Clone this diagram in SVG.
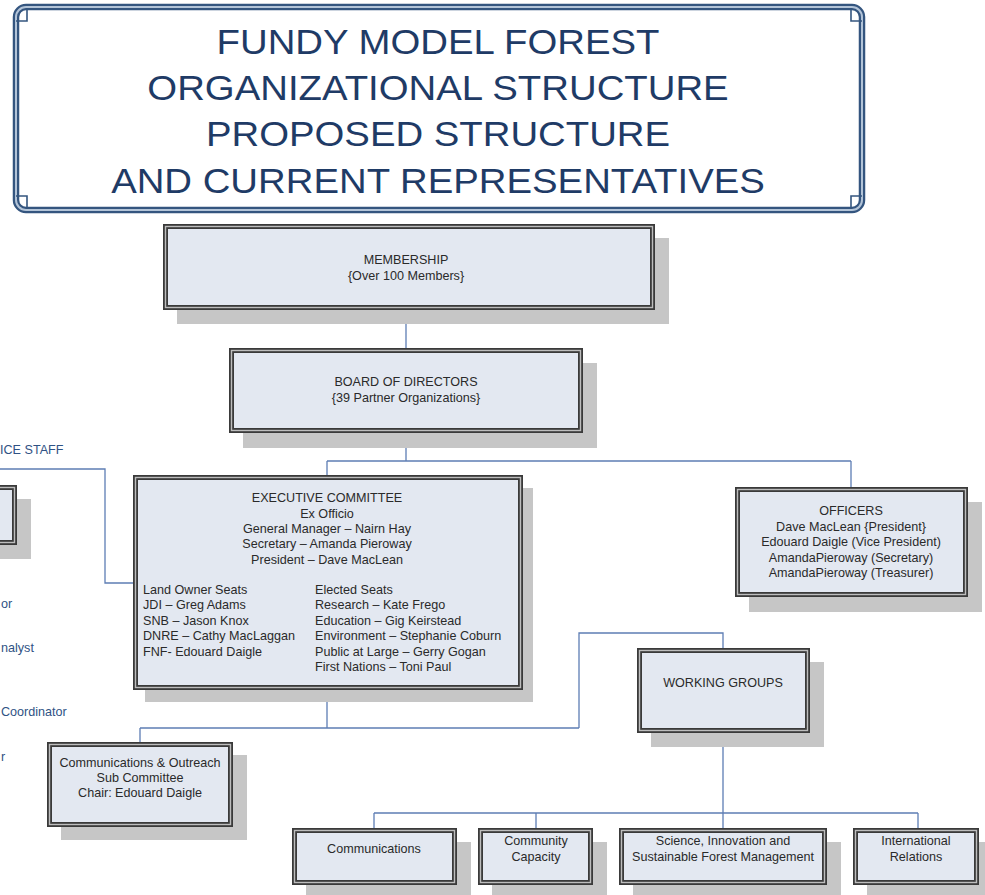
<svg xmlns="http://www.w3.org/2000/svg" width="985" height="895" viewBox="0 0 985 895">
  <style>
    .shadow { fill: #c6c6c6; }
    .box { fill: #e3e8f1; stroke: #3a3a3a; stroke-width: 5; }
    .mid { fill: none; stroke: #bdbdbd; stroke-width: 1.4; }
    .t { font-family: "Liberation Sans", Arial, sans-serif; font-size: 12.6px; fill: #2a2a2a; }
    .c { text-anchor: middle; }
    .side { font-family: "Liberation Sans", Arial, sans-serif; font-size: 12.6px; fill: #2f5284; }
    .link { fill: none; stroke: #5d7db4; stroke-width: 1.3; }
    .title { font-family: "Liberation Sans", Arial, sans-serif; font-size: 36px; fill: #1f3b66; text-anchor: middle; }
    .frame { fill: none; stroke: #34557f; stroke-width: 6.5; }
    .frame-in { fill: none; stroke: #b3c4d8; stroke-width: 2; }
    .notch { fill: none; stroke: #34557f; stroke-width: 1.6; }
  </style>

  <rect x="0" y="0" width="985" height="895" fill="#ffffff"/>

  <!-- title frame -->
  <g id="title">
    <rect class="frame" x="16" y="7" width="846" height="203" rx="10"/>
    <rect class="frame-in" x="16" y="7" width="846" height="203" rx="10"/>
    <path class="notch" d="M27,8 V21 H16 M851,8 V21 H862 M27,209 V196 H16 M851,209 V196 H862"/>
    <g transform="translate(438,0) scale(1.065,1)">
      <text class="title" x="0" y="54">FUNDY MODEL FOREST</text>
      <text class="title" x="0" y="100">ORGANIZATIONAL STRUCTURE</text>
      <text class="title" x="0" y="146.5">PROPOSED STRUCTURE</text>
      <text class="title" x="0" y="193">AND CURRENT REPRESENTATIVES</text>
    </g>
  </g>

  <!-- connectors -->
  <g id="connectors">
    <path class="link" d="M406,310 V348"/>
    <path class="link" d="M406,433 V461 M327,461 H851 M327,461 V475 M851,461 V487"/>
    <path class="link" d="M327,690 V728 M140,728 H579 M140,728 V742 M579,728 V633 H723 V648"/>
    <path class="link" d="M723,733 V813 M374,813 H918 M374,813 V828 M536,813 V828 M723,813 V828 M918,813 V828"/>
    <path class="link" d="M0,469 H105 V583 H133"/>
  </g>

  <!-- office staff column, running off the left edge -->
  <g id="office-staff">
    <text class="side" x="0" y="454">ICE STAFF</text>
    <rect class="shadow" x="-86" y="499" width="117" height="60"/>
    <rect class="box" x="-97.5" y="487.5" width="112" height="55"/>
    <rect class="mid" x="-97.5" y="487.5" width="112" height="55"/>
    <text class="side" x="1" y="608">or</text>
    <text class="side" x="1" y="652">nalyst</text>
    <text class="side" x="1" y="716">Coordinator</text>
    <text class="side" x="1" y="761">r</text>
  </g>

  <g id="membership">
    <rect class="shadow" x="177" y="238" width="492" height="86"/>
    <rect class="box" x="165.5" y="226.5" width="487" height="81"/>
    <rect class="mid" x="165.5" y="226.5" width="487" height="81"/>
    <text class="t c" x="406" y="264">MEMBERSHIP</text>
    <text class="t c" x="406" y="279.5">{Over 100 Members}</text>
  </g>

  <g id="board">
    <rect class="shadow" x="243" y="363" width="354" height="85"/>
    <rect class="box" x="231.5" y="350.5" width="349" height="80"/>
    <rect class="mid" x="231.5" y="350.5" width="349" height="80"/>
    <text class="t c" x="406" y="386">BOARD OF DIRECTORS</text>
    <text class="t c" x="406" y="402">{39 Partner Organizations}</text>
  </g>

  <g id="executive-committee">
    <rect class="shadow" x="145" y="488" width="388" height="214"/>
    <rect class="box" x="135.5" y="477.5" width="385" height="210"/>
    <rect class="mid" x="135.5" y="477.5" width="385" height="210"/>
    <text class="t c" x="327" y="501.5">EXECUTIVE COMMITTEE</text>
    <text class="t c" x="327" y="517.5">Ex Officio</text>
    <text class="t c" x="327" y="532.5">General Manager – Nairn Hay</text>
    <text class="t c" x="327" y="547.5">Secretary – Amanda Pieroway</text>
    <text class="t c" x="327" y="563.5">President – Dave MacLean</text>
    <text class="t" x="143" y="593.5">Land Owner Seats</text>
    <text class="t" x="143" y="609">JDI – Greg Adams</text>
    <text class="t" x="143" y="624.5">SNB – Jason Knox</text>
    <text class="t" x="143" y="640">DNRE – Cathy MacLaggan</text>
    <text class="t" x="143" y="655.5">FNF- Edouard Daigle</text>
    <text class="t" x="315" y="593.5">Elected Seats</text>
    <text class="t" x="315" y="609">Research – Kate Frego</text>
    <text class="t" x="315" y="624.5">Education – Gig Keirstead</text>
    <text class="t" x="315" y="640">Environment – Stephanie Coburn</text>
    <text class="t" x="315" y="655.5">Public at Large – Gerry Gogan</text>
    <text class="t" x="315" y="670.5">First Nations – Toni Paul</text>
  </g>

  <g id="officers">
    <rect class="shadow" x="749" y="502" width="233" height="110"/>
    <rect class="box" x="737.5" y="489.5" width="228" height="105"/>
    <rect class="mid" x="737.5" y="489.5" width="228" height="105"/>
    <text class="t c" x="851" y="514.5">OFFICERS</text>
    <text class="t c" x="851" y="530.5">Dave MacLean {President}</text>
    <text class="t c" x="851" y="546">Edouard Daigle (Vice President)</text>
    <text class="t c" x="851" y="561.5">AmandaPieroway (Secretary)</text>
    <text class="t c" x="851" y="577">AmandaPieroway (Treasurer)</text>
  </g>

  <g id="working-groups">
    <rect class="shadow" x="651" y="662" width="173" height="85"/>
    <rect class="box" x="639.5" y="650.5" width="168" height="80"/>
    <rect class="mid" x="639.5" y="650.5" width="168" height="80"/>
    <text class="t c" x="723" y="686.5">WORKING GROUPS</text>
  </g>

  <g id="comms-outreach">
    <rect class="shadow" x="61" y="755" width="186" height="85"/>
    <rect class="box" x="49.5" y="744.5" width="181" height="80"/>
    <rect class="mid" x="49.5" y="744.5" width="181" height="80"/>
    <text class="t c" x="140" y="766.5">Communications &amp; Outreach</text>
    <text class="t c" x="140" y="781.5">Sub Committee</text>
    <text class="t c" x="140" y="796.5">Chair: Edouard Daigle</text>
  </g>

  <g id="communications">
    <rect class="shadow" x="306" y="842" width="165" height="57"/>
    <rect class="box" x="294.5" y="830.5" width="160" height="52"/>
    <rect class="mid" x="294.5" y="830.5" width="160" height="52"/>
    <text class="t c" x="374" y="852.5">Communications</text>
  </g>

  <g id="community-capacity">
    <rect class="shadow" x="492" y="842" width="115" height="57"/>
    <rect class="box" x="480.5" y="830.5" width="110" height="52"/>
    <rect class="mid" x="480.5" y="830.5" width="110" height="52"/>
    <text class="t c" x="536" y="844.5">Community</text>
    <text class="t c" x="536" y="860.5">Capacity</text>
  </g>

  <g id="science-innovation">
    <rect class="shadow" x="633" y="842" width="208" height="57"/>
    <rect class="box" x="621.5" y="830.5" width="203" height="52"/>
    <rect class="mid" x="621.5" y="830.5" width="203" height="52"/>
    <text class="t c" x="723" y="844.5">Science, Innovation and</text>
    <text class="t c" x="723" y="860.5">Sustainable Forest Management</text>
  </g>

  <g id="international-relations">
    <rect class="shadow" x="867" y="842" width="126" height="57"/>
    <rect class="box" x="855.5" y="830.5" width="121" height="52"/>
    <rect class="mid" x="855.5" y="830.5" width="121" height="52"/>
    <text class="t c" x="916" y="844.5">International</text>
    <text class="t c" x="916" y="860.5">Relations</text>
  </g>
</svg>
